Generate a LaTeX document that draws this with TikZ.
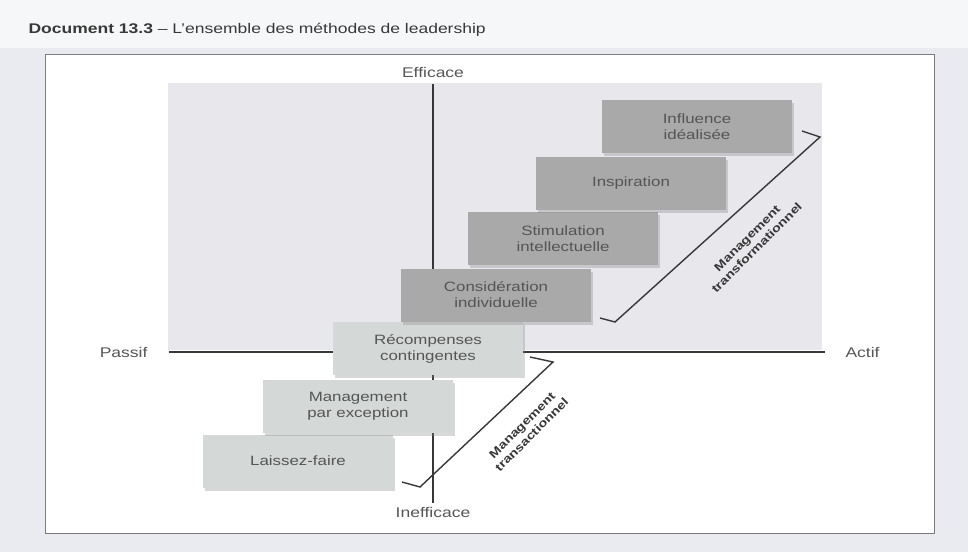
\documentclass[tikz,border=0pt]{standalone}
\usepackage{fontspec}
\setmainfont{Liberation Sans}[FakeStretch=1.25]
\usetikzlibrary{shadows}
\definecolor{fond}{HTML}{E9EBF1}
\definecolor{cadre}{HTML}{7C7C7C}
\definecolor{zone}{HTML}{E7E7EC}
\definecolor{clair}{HTML}{D4D8D7}
\definecolor{fonce}{HTML}{A9A9A9}
\definecolor{texte}{HTML}{555555}
\definecolor{trait}{HTML}{383838}
\tikzset{
	boite/.style={minimum width=190pt, minimum height=53pt, align=center, text=texte,
		font=\fontsize{13.5}{16}\selectfont,
		drop shadow={shadow xshift=2pt, shadow yshift=-3pt, opacity=0.3}},
	boiteclaire/.style={boite, fill=clair},
	boitefoncee/.style={boite, fill=fonce},
	axe/.style={line width=2pt, trait},
	accolade/.style={line width=1.4pt, trait, line join=miter},
	legende/.style={font=\fontsize{14}{16}\selectfont, text=trait!85},
	management/.style={font=\bfseries\fontsize{11.5}{13.5}\selectfont, align=center, rotate=45, text=trait}
}
\begin{document}
\begin{tikzpicture}[x=1pt, y=-1pt]
	\useasboundingbox (0,0) rectangle (968,552);
	% le fond et le cadre
	\fill[fond] (0,0) rectangle (968,552);
	\fill[white!60!fond] (0,0) rectangle (968,48);
	\filldraw[fill=white, draw=cadre, line width=1pt] (45,54) rectangle (934,533);
	\fill[zone] (168,83) rectangle (822,350);
	\node[anchor=west, font=\fontsize{14}{16}\selectfont, text=trait] (titre) at (25,30)
		{\textbf{Document 13.3} – L’ensemble des méthodes de leadership};
	% les axes
	\coordinate (haut) at (433,84);
	\coordinate (bas) at (433,503);
	\coordinate (gauche) at (169,352);
	\coordinate (droite) at (825,352);
	\draw[axe] (bas) -- (haut);
	\draw[axe] (gauche) -- (droite);
	\node[legende, above=2.5pt] (efficace) at (haut) {Efficace};
	\node[legende, below=1pt] (inefficace) at (bas) {Inefficace};
	\node[legende, left=18pt] (passif) at (gauche) {Passif};
	\node[legende, right=17pt] (actif) at (droite) {Actif};
	% les marches
	\node[boiteclaire] (laisser) at (298,461) {Laissez-faire};
	\node[boiteclaire] (exception) at (358,406) {Management\\par exception};
	\node[boiteclaire] (recompenses) at (428,348.5) {Récompenses\\contingentes};
	\node[boitefoncee] (consideration) at (496,295) {Considération\\individuelle};
	\node[boitefoncee] (stimulation) at (563,238.5) {Stimulation\\intellectuelle};
	\node[boitefoncee] (inspiration) at (631,183.5) {Inspiration};
	\node[boitefoncee] (influence) at (697,126.5) {Influence\\idéalisée};
	% les deux accolades
	\coordinate (tf-bas) at (600,318);
	\coordinate (tf-coin) at (615,322);
	\coordinate (tf-sommet) at (820,137);
	\coordinate (tf-haut) at (802,131);
	\draw[accolade] (tf-bas) -- (tf-coin) -- (tf-sommet) -- (tf-haut);
	\coordinate (tc-bas) at (402,482);
	\coordinate (tc-coin) at (420,487);
	\coordinate (tc-sommet) at (553,362);
	\coordinate (tc-haut) at (530,357);
	\draw[accolade] (tc-bas) -- (tc-coin) -- (tc-sommet) -- (tc-haut);
	\node[management] (transfo) at (752,243) {Management\\transformationnel};
	\node[management] (transac) at (527,430) {Management\\transactionnel};
\end{tikzpicture}
\end{document}
